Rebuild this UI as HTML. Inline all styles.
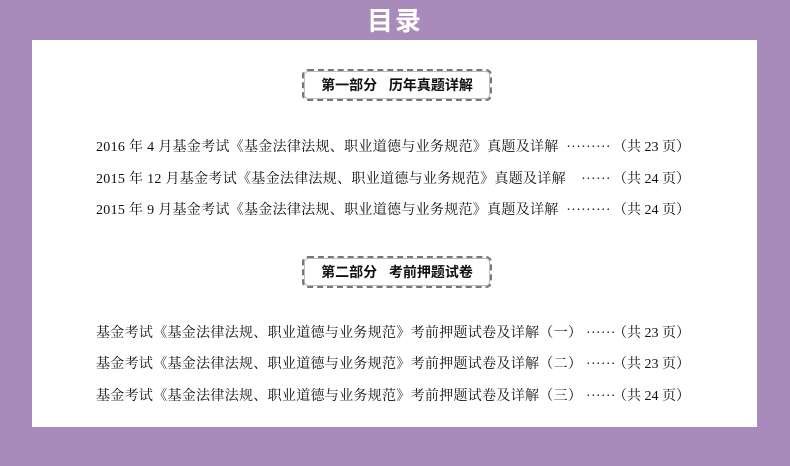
<!DOCTYPE html>
<html><head><meta charset="utf-8"><style>
*{margin:0;padding:0}
body{width:790px;height:466px;background:#a98bbb;position:relative;overflow:hidden;font-family:"Liberation Serif","Noto Serif CJK SC",serif;}
.title{position:absolute;left:0;width:790px;top:4px;text-align:center;color:#fff;font-family:"Liberation Sans","Noto Sans CJK SC",sans-serif;font-size:26px;line-height:34px;letter-spacing:2px;font-weight:bold}
.panel{position:absolute;left:32px;top:40px;width:725px;height:387px;background:#fff}
.box{position:absolute;left:302px;width:186px;height:28px;border:2px dashed #777;border-radius:6px;box-shadow:0 0 0 1px #bbb inset;font-family:"Liberation Sans","Noto Sans CJK SC",sans-serif;font-weight:bold;font-size:14px;line-height:28px;text-align:center;color:#111;white-space:pre}
.l{position:absolute;left:96px;font-size:14px;line-height:18px;color:#111;white-space:pre;letter-spacing:0.3px}
.r{position:absolute;right:100px;font-size:14px;line-height:18px;color:#111;white-space:pre}
</style></head><body>
<div class="title">目录</div>
<div class="panel"></div>
<div class="box" style="top:69px">第一部分   历年真题详解</div>
<div class="l" style="top:139px">2016 年 4 月基金考试《基金法律法规、职业道德与业务规范》真题及详解  ·········</div>
<div class="r" style="top:139px">（共 23 页）</div>
<div class="l" style="top:171px">2015 年 12 月基金考试《基金法律法规、职业道德与业务规范》真题及详解    ······</div>
<div class="r" style="top:171px">（共 24 页）</div>
<div class="l" style="top:202px">2015 年 9 月基金考试《基金法律法规、职业道德与业务规范》真题及详解  ·········</div>
<div class="r" style="top:202px">（共 24 页）</div>
<div class="box" style="top:256px">第二部分   考前押题试卷</div>
<div class="l" style="top:325px">基金考试《基金法律法规、职业道德与业务规范》考前押题试卷及详解（一） ······</div>
<div class="r" style="top:325px">（共 23 页）</div>
<div class="l" style="top:356px">基金考试《基金法律法规、职业道德与业务规范》考前押题试卷及详解（二） ······</div>
<div class="r" style="top:356px">（共 23 页）</div>
<div class="l" style="top:388px">基金考试《基金法律法规、职业道德与业务规范》考前押题试卷及详解（三） ······</div>
<div class="r" style="top:388px">（共 24 页）</div>
</body></html>
